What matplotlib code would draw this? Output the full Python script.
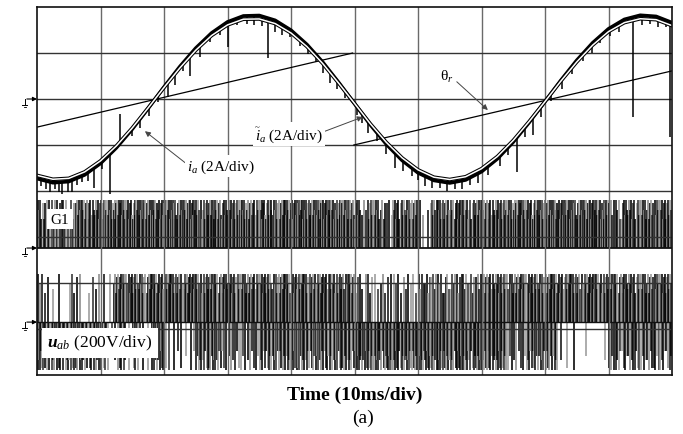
import numpy as np
import matplotlib
matplotlib.use("Agg")
import matplotlib.pyplot as plt
import matplotlib.patheffects as pe

plt.rcParams["font.family"] = ["Liberation Serif", "DejaVu Serif"]
plt.rcParams["mathtext.fontset"] = "custom"
plt.rcParams["mathtext.rm"] = "Liberation Serif"
plt.rcParams["mathtext.it"] = "Liberation Serif:italic"
plt.rcParams["mathtext.bf"] = "Liberation Serif:bold"
plt.rcParams["mathtext.bfit"] = "Liberation Serif:bold:italic"

# ---------------- data (time in ms, 10 ms/div) ----------------
t_ms = np.arange(0.0, 100.01, 2.5)

# phase current i_a [A]
ia_A = [-3.46, -3.64, -3.59, -3.30, -2.80, -2.12, -1.31, -0.41, 0.52, 1.41,
        2.21, 2.87, 3.35, 3.61, 3.63, 3.42, 2.99, 2.37, 1.60, 0.72,
        -0.20, -1.12, -1.96, -2.67, -3.21, -3.54, -3.65, -3.52, -3.16, -2.60,
        -1.87, -1.02, -0.11, 0.81, 1.68, 2.44, 3.05, 3.46, 3.64, 3.59, 3.32]

# estimated current [A]
ia_est_A = [-3.32, -3.49, -3.45, -3.17, -2.69, -2.04, -1.26, -0.39, 0.50, 1.35,
            2.12, 2.76, 3.22, 3.47, 3.48, 3.28, 2.87, 2.28, 1.54, 0.69,
            -0.19, -1.08, -1.88, -2.56, -3.08, -3.40, -3.50, -3.38, -3.03, -2.50,
            -1.80, -0.98, -0.11, 0.78, 1.61, 2.34, 2.93, 3.32, 3.49, 3.45, 3.19]

# switching spikes on the measured current: time [ms], excursion [A]
spike_t = [0.6, 1.4, 2.1, 2.8, 3.4, 3.9, 4.9, 5.5, 6.3, 7.1,
           8.0, 9.0, 10.2, 11.5, 13.1, 15.0, 16.2, 17.6, 19.0, 20.6,
           21.7, 23.0, 24.1, 25.7, 27.2, 28.8, 30.1, 31.5, 33.0, 34.2,
           35.4, 36.4, 37.5, 38.6, 39.8, 41.4, 42.6, 44.0, 45.0, 46.1,
           47.3, 48.5, 50.4, 51.2, 52.1, 53.6, 55.0, 56.4, 57.7, 59.1,
           60.0, 61.1, 62.2, 63.5, 64.6, 65.8, 66.9, 68.2, 69.5, 71.0,
           72.9, 74.2, 75.6, 76.8, 78.1, 79.4, 81.0, 82.6, 84.2, 86.0,
           87.4, 88.7, 90.2, 91.6, 93.9, 95.3, 96.5, 97.8, 99.0, 99.7]
spike_A = [-0.30, -0.35, -0.45, -0.26, -0.40, -0.52, -0.43, -0.52, -0.30, -0.26,
           -0.35, -0.87, -0.30, -1.74, 1.26, -0.30, -0.40, -0.35, -0.30, -0.65,
           -0.52, -0.35, -0.91, -0.57, -0.30, -0.35, -1.09, -0.30, -0.35, -0.40,
           -0.43, -1.74, -0.52, -0.43, -0.35, -0.35, -0.40, -0.30, -0.45, -0.52,
           -0.35, -0.30, -0.35, -0.40, -0.52, -0.35, -0.45, -0.65, -0.40, -0.35,
           -0.30, -0.43, -0.35, -0.30, -0.35, -0.30, -0.35, -0.30, -0.40, -0.35,
           -0.43, -0.35, -1.52, -0.40, -0.78, -0.45, -0.35, -0.40, -0.30, -0.35,
           -0.40, -0.30, -0.35, -0.40, -4.35, -0.40, -0.35, -0.43, -0.30, -5.00]

# rotor position theta_r [rad], two ramps of the sawtooth
theta1_t = [0.0, 49.7]
theta1_rad = [1.22, 6.28]
theta2_t = [49.9, 100.0]
theta2_rad = [0.0, 5.06]

# PWM activity per 1 ms bin (number of switching lines drawn in the bin)
g1_density = ("55" "4444" "6666" "777777777777777" "667766776677667"
              "7777777777" "6366436666" "21" "66666666666"
              "77777777777777777" "44" "66666666")
uab_pos_density = ("321103202211" "6666666666666" "6666666666666666666666666"
                   "3232323232" "4444444444" "666666666666666666666666666666")
uab_neg_density = ("65555555555225152155" "21212" "5555" "333333"
                   "555555555555555" "666666666666666666666666" "333"
                   "55555" "11101001" "4444444444")

# ---------------- channel scaling (screen divisions) ----------------
CUR_A_PER_DIV = 2.0
CUR_ZERO = 2.0
G1_LOW, G1_HIGH = -1.24, -0.20
UAB_V_PER_DIV = 200.0
UAB_ZERO = -2.85
UAB_VDC = 208.0


def cur_div(a):
    return CUR_ZERO + np.asarray(a) / CUR_A_PER_DIV


def theta_div(th):
    return CUR_ZERO - 1.0 + np.asarray(th) / np.pi


fig = plt.figure(figsize=(6.83, 4.35), dpi=100)
ax = fig.add_axes([37 / 683, 59 / 435, 635 / 683, 368 / 435])
ax.set_xlim(0, 100)
ax.set_ylim(-4, 4)
ax.set_xticks([])
ax.set_yticks([])
for s in ax.spines.values():
    s.set_linewidth(1.2)
    s.set_color("#111111")
    s.set_zorder(6)

# graticule
for x in np.arange(10, 100, 10):
    ax.axvline(x, color="#6a6a6a", lw=1.0, zorder=3)
for y in np.arange(-3, 4, 1):
    ax.axhline(y, color="#333333", lw=1.0, zorder=3)

LEN_CYCLE = [1.0, 0.8, 1.0, 0.6, 0.95, 1.0, 0.7]
COL_CYCLE = ["#000000", "#8a8a8a", "#111111", "#000000", "#9a9a9a", "#333333"]


def draw_pwm(density, base, top):
    xs, tops, cols = [], [], []
    for i, ch in enumerate(density):
        n = int(ch)
        for k in range(n):
            xs.append(i + (k + 0.5) / n)
            frac = LEN_CYCLE[(3 * i + k) % len(LEN_CYCLE)]
            tops.append(base + (top - base) * frac)
            cols.append(COL_CYCLE[(2 * i + k) % len(COL_CYCLE)])
    ax.vlines(xs, base, tops, colors=cols, lw=1.15, zorder=2)


# gate signal G1
draw_pwm(g1_density, G1_LOW, G1_HIGH)
ax.axhline(G1_LOW, color="#111111", lw=1.3, zorder=2)

# line voltage u_ab
uab_top = UAB_ZERO + UAB_VDC / UAB_V_PER_DIV
uab_bot = UAB_ZERO - UAB_VDC / UAB_V_PER_DIV
draw_pwm(uab_pos_density, UAB_ZERO, uab_top)
draw_pwm(uab_neg_density, UAB_ZERO, uab_bot)
ax.axhline(UAB_ZERO, color="#111111", lw=1.0, zorder=2)

# rotor position ramps
ax.plot(theta1_t, theta_div(theta1_rad), color="black", lw=0.9, zorder=4)
ax.plot(theta2_t, theta_div(theta2_rad), color="black", lw=0.9, zorder=4)

# measured current with switching spikes
ax.plot(t_ms, cur_div(ia_A), color="black", lw=2.6, zorder=4)
base = np.interp(spike_t, t_ms, ia_A)
ax.vlines(spike_t, cur_div(base), cur_div(base + np.asarray(spike_A)),
          color="black", lw=1.1, zorder=4)

# estimated current: white trace with dark outline
ax.plot(t_ms, cur_div(ia_est_A), color="white", lw=1.1, zorder=5,
        path_effects=[pe.Stroke(linewidth=2.6, foreground="black"), pe.Normal()])

# channel ground markers
for y0 in (CUR_ZERO, G1_LOW, UAB_ZERO):
    ax.annotate("", xy=(0, y0), xytext=(-1.6, y0), xycoords="data",
                arrowprops=dict(arrowstyle="-|>", color="black", lw=0.8,
                                mutation_scale=6, shrinkA=0, shrinkB=0),
                annotation_clip=False)
    ax.plot([-1.9, -1.9], [y0, y0 - 0.13], color="black", lw=0.7, clip_on=False)
    ax.plot([-2.3, -1.5], [y0 - 0.13, y0 - 0.13], color="black", lw=0.7, clip_on=False)
    ax.plot([-2.1, -1.7], [y0 - 0.18, y0 - 0.18], color="black", lw=0.6, clip_on=False)

box = dict(facecolor="white", edgecolor="none", pad=1.5)
arrow_kw = dict(arrowstyle="-|>", color="#444444", lw=0.7, mutation_scale=8,
                shrinkA=0, shrinkB=0)

ax.annotate(r"$i_a$ (2A/div)", xy=(17.0, 1.30), xytext=(29.0, 0.54),
            ha="center", va="center", fontsize=11, bbox=box, zorder=7,
            arrowprops=dict(arrow_kw, relpos=(0.0, 0.6)))
ax.annotate(r"$\widetilde{i}_a$ (2A/div)", xy=(51.3, 1.61), xytext=(39.7, 1.24),
            ha="center", va="center", fontsize=11, bbox=box, zorder=7,
            arrowprops=dict(arrow_kw, relpos=(1.0, 0.6)))
ax.annotate("θ$_r$", xy=(71.0, 1.76), xytext=(64.6, 2.50),
            ha="center", va="center", fontsize=11, zorder=7,
            arrowprops=dict(arrow_kw, relpos=(1.0, 0.3)))

ax.text(3.6, -0.61, "G1", ha="center", va="center", fontsize=11,
        bbox=dict(facecolor="white", edgecolor="none", pad=2.5), zorder=7)
ax.text(9.9, -3.30, r"$\mathbfit{u}_{ab}$ (200V/div)", ha="center", va="center",
        fontsize=12.5, bbox=dict(facecolor="white", edgecolor="none", pad=4), zorder=7)

fig.text(355 / 683, 1 - 395 / 435, "Time (10ms/div)", ha="center", va="center",
         fontsize=14, fontweight="bold")
fig.text(363 / 683, 1 - 418 / 435, "(a)", ha="center", va="center", fontsize=14)

fig.savefig("out.png", dpi=100, facecolor="white")
